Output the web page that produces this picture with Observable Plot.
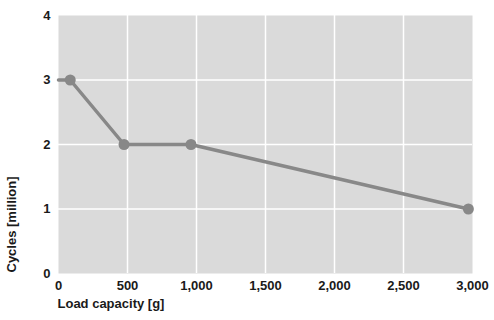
<!DOCTYPE html>
<html>
<head>
<meta charset="utf-8">
<script src="https://cdn.jsdelivr.net/npm/d3@7"></script>
<script src="https://cdn.jsdelivr.net/npm/@observablehq/plot@0.6"></script>
<style>
  html, body { margin: 0; padding: 0; background: #fff; }
  #chart { width: 494px; height: 320px; }
</style>
</head>
<body>
<div id="chart"></div>
<script>
// Line path (starts at the left edge at 3 million)
const lineLoad = [0, 85, 475, 960, 2970];
const lineCycles = [3, 3, 2, 2, 1];
// Marked points
const pointLoad = [85, 475, 960, 2970];
const pointCycles = [3, 2, 2, 1];
// Ticks
const xTicks = [0, 500, 1000, 1500, 2000, 2500, 3000];
const yTicks = [0, 1, 2, 3, 4];
const xLabel = "Load capacity [g]";
const yLabel = "Cycles [million]";

const lineData = lineLoad.map((x, i) => ({x, y: lineCycles[i]}));
const pointData = pointLoad.map((x, i) => ({x, y: pointCycles[i]}));

const color = "#888888";

const chart = Plot.plot({
  width: 494,
  height: 320,
  marginLeft: 58,
  marginRight: 22,
  marginTop: 15,
  marginBottom: 47,
  style: {
    fontFamily: "'Liberation Sans', Arial, Helvetica, sans-serif",
    fontSize: "13px",
    fontWeight: "bold",
    color: "#1a1a1a",
    background: "#ffffff"
  },
  x: {domain: [0, 3000], ticks: xTicks, tickFormat: d3.format(","), tickSize: 0, tickPadding: 7, label: null},
  y: {domain: [0, 4], ticks: yTicks, tickFormat: d3.format("d"), tickSize: 0, tickPadding: 8, label: null},
  marks: [
    Plot.frame({fill: "#dadada", stroke: null}),
    Plot.gridX(xTicks.slice(1, -1), {stroke: "#ffffff", strokeOpacity: 1, strokeWidth: 1.5}),
    Plot.gridY(yTicks.slice(1, -1), {stroke: "#ffffff", strokeOpacity: 1, strokeWidth: 1.5}),
    Plot.line(lineData, {x: "x", y: "y", stroke: color, strokeWidth: 3.5}),
    Plot.dot(pointData, {x: "x", y: "y", r: 5.5, fill: color, stroke: null}),
    Plot.text([xLabel], {frameAnchor: "bottom-left", text: d => d, textAnchor: "start", dx: -1, dy: 30, lineAnchor: "middle", fill: "#1a1a1a"}),
    Plot.text([yLabel], {frameAnchor: "bottom-left", text: d => d, textAnchor: "start", rotate: -90, dx: -47, dy: -1, lineAnchor: "middle", fill: "#1a1a1a"})
  ]
});
document.getElementById("chart").appendChild(chart);
</script>
</body>
</html>
